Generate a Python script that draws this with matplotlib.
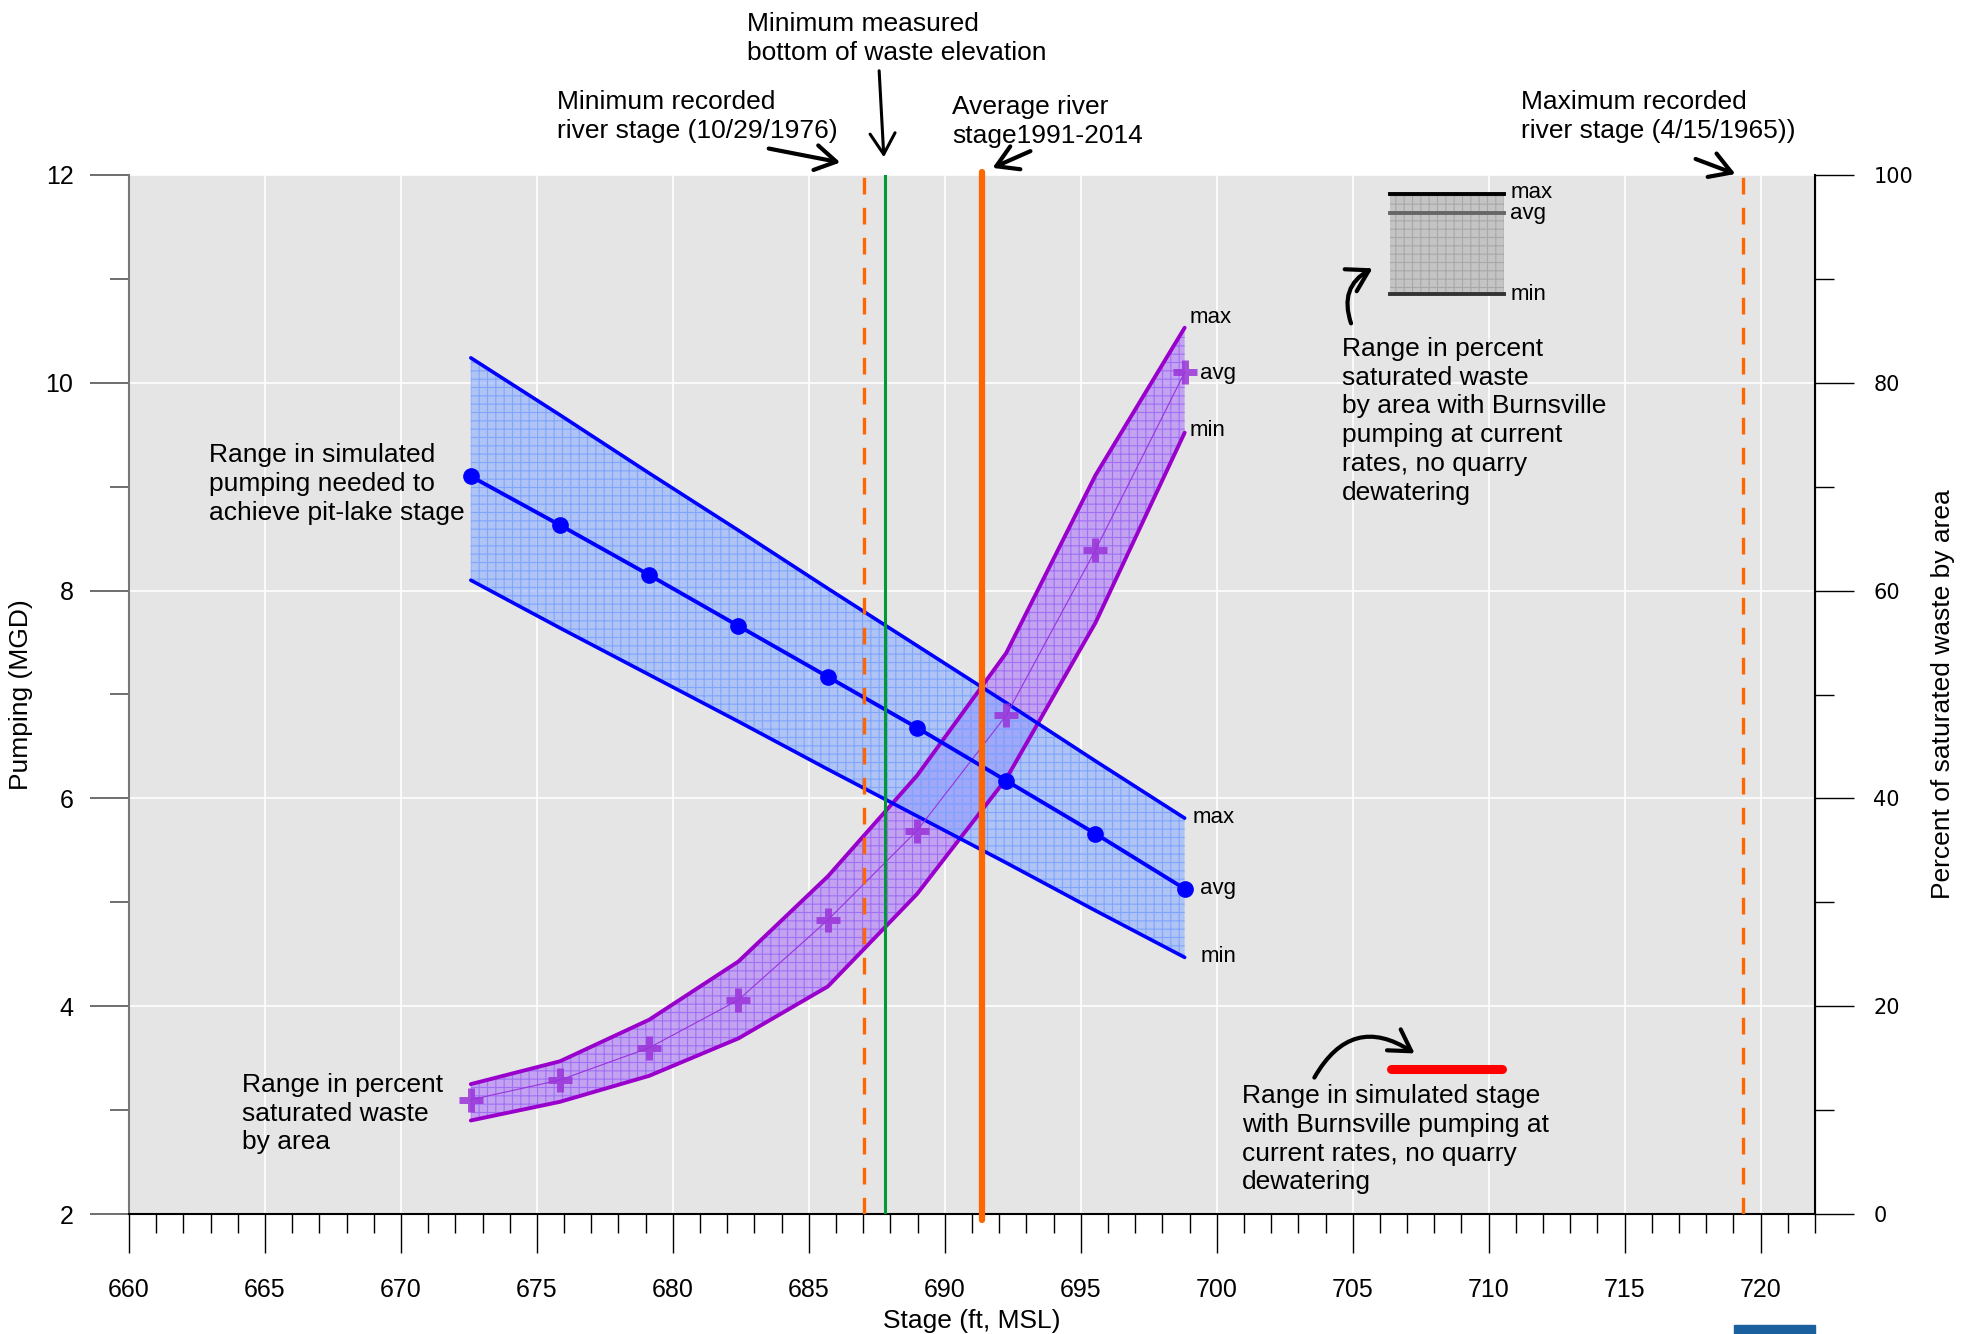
import numpy as np
import matplotlib
matplotlib.use("Agg")
import matplotlib.pyplot as plt
from matplotlib.patches import FancyArrowPatch, Rectangle
from matplotlib.ticker import MultipleLocator

plt.rcParams['font.family'] = ['Liberation Sans', 'DejaVu Sans']
plt.rcParams['hatch.linewidth'] = 0.8

# ---- data ----
stage = [672.57, 675.85, 679.13, 682.41, 685.70, 688.98, 692.26, 695.54, 698.82]  # ft, MSL

pump_avg = [9.10, 8.63, 8.15, 7.66, 7.17, 6.68, 6.17, 5.66, 5.13]   # MGD
pump_max = [10.24, 9.69, 9.13, 8.58, 8.02, 7.47, 6.92, 6.36, 5.81]
pump_min = [8.10, 7.64, 7.19, 6.74, 6.28, 5.83, 5.38, 4.92, 4.47]

sat_avg = [11.0, 12.9, 16.0, 20.6, 28.3, 36.9, 48.0, 63.9, 81.0]   # percent
sat_max = [12.5, 14.7, 18.7, 24.3, 32.5, 42.2, 54.0, 71.1, 85.3]
sat_min = [9.0, 10.8, 13.3, 16.9, 21.9, 30.8, 41.9, 56.9, 75.2]

min_river_stage = 687.03
min_waste_bottom = 687.80
avg_river_stage = 691.35
max_river_stage = 719.35

sim_stage_range = [706.42, 710.49]
sim_stage_pump = 3.40

W, H = 1963, 1334
def fx(px):
    return px / W
def fy(py):
    return 1 - py / H

fig = plt.figure(figsize=(W / 100, H / 100), dpi=100)
ax = fig.add_axes([fx(129), fy(1214), (1815 - 129) / W, (1214 - 175) / H])
ax.set_facecolor('#e5e5e5')
ax.set_xlim(660, 722)
ax.set_ylim(2, 12)
ax2 = ax.twinx()
ax2.set_ylim(0, 100)

# grid
ax.set_axisbelow(True)
ax.xaxis.set_major_locator(MultipleLocator(5))
ax.xaxis.set_minor_locator(MultipleLocator(1))
ax.yaxis.set_major_locator(MultipleLocator(2))
ax.yaxis.set_minor_locator(MultipleLocator(1))
ax2.yaxis.set_major_locator(MultipleLocator(20))
ax2.yaxis.set_minor_locator(MultipleLocator(10))
ax.grid(True, which='major', color='white', lw=1.2)

ax.spines['top'].set_visible(False)
ax2.spines['top'].set_visible(False)
ax.spines['left'].set_color('#777777')
ax.spines['left'].set_linewidth(1.5)
ax.spines['bottom'].set_linewidth(1.5)
ax2.spines['right'].set_linewidth(1.5)
ax2.spines['left'].set_visible(False)
ax2.spines['bottom'].set_visible(False)

ax.tick_params(axis='x', which='major', direction='out', length=28, width=1, pad=18, labelsize=18)
ax.tick_params(axis='x', which='minor', direction='out', length=14, width=1)
ax.tick_params(axis='y', which='major', direction='out', length=28, width=1.2, pad=12,
               labelsize=18, color='#555555')
ax.tick_params(axis='y', which='minor', direction='out', length=14, width=1.2, color='#555555')
ax2.tick_params(axis='y', which='major', direction='out', length=28, width=1, pad=14, labelsize=15)
ax2.tick_params(axis='y', which='minor', direction='out', length=14, width=1)
for lab in ax2.get_yticklabels():
    lab.set_family('DejaVu Sans')

# ---- saturated waste (right axis) ----
ax2.fill_between(stage, sat_min, sat_max, facecolor=(0.72, 0.55, 0.96, 0.75),
                 edgecolor='#a070f5', hatch='++', linewidth=0, zorder=2)
ax2.plot(stage, sat_max, color='#9900cc', lw=2.8, solid_capstyle='round', zorder=3)
ax2.plot(stage, sat_min, color='#9900cc', lw=2.8, solid_capstyle='round', zorder=3)
ax2.plot(stage, sat_avg, color='#9933dd', lw=0.8, marker='+', ms=17, mew=5,
         mec=(0.6, 0.2, 0.85, 0.85), zorder=4)

# ---- pumping (left axis, drawn on the right-axis scale) ----
pump_max_r = [(v - 2) * 10 for v in pump_max]
pump_min_r = [(v - 2) * 10 for v in pump_min]
pump_avg_r = [(v - 2) * 10 for v in pump_avg]
ax2.fill_between(stage, pump_min_r, pump_max_r, facecolor=(0.55, 0.68, 1.0, 0.6),
                 edgecolor='#7fa5ff', hatch='++', linewidth=0, zorder=2.5)
ax2.plot(stage, pump_max_r, color='#0000ff', lw=2.6, solid_capstyle='round', zorder=3)
ax2.plot(stage, pump_min_r, color='#0000ff', lw=2.6, solid_capstyle='round', zorder=3)
ax2.plot(stage, pump_avg_r, color='#0000ff', lw=2.8, marker='o', ms=11, zorder=4)

# ---- reference stages ----
ax2.axvline(min_river_stage, color='#ff6600', lw=2.4, ls=(0, (5, 4)), zorder=5)
ax2.axvline(min_waste_bottom, color='#009933', lw=2.2, zorder=5)
ax2.plot([avg_river_stage, avg_river_stage], [-0.6, 100.3], color='#ff6600', lw=4.5,
         solid_capstyle='round', clip_on=False, zorder=5)
ax2.axvline(max_river_stage, color='#ff6600', lw=2.4, ls=(0, (5, 4)), zorder=5)

ax2.plot(sim_stage_range, [(sim_stage_pump - 2) * 10] * 2, color='#ff0000', lw=6.5,
         solid_capstyle='round', zorder=5)

# max / avg / min labels
lab_kw = dict(fontsize=16, va='center', ha='left', zorder=6)
ax2.text(699.0, 86.3, 'max', **lab_kw)
ax2.text(699.4, 80.9, 'avg', **lab_kw)
ax2.text(699.0, 75.4, 'min', **lab_kw)
ax2.text(699.1, 38.2, 'max', **lab_kw)
ax2.text(699.4, 31.3, 'avg', **lab_kw)
ax2.text(699.4, 24.8, 'min', **lab_kw)

# legend inset
lx0, lx1 = 706.36, 710.55
ly_max, ly_avg, ly_min = 98.17, 96.34, 88.55
ax2.fill_between([lx0, lx1], [ly_min] * 2, [ly_max] * 2, facecolor='#c4c4c4',
                 edgecolor='#a8a8a8', hatch='++', linewidth=0, zorder=2)
ax2.plot([lx0, lx1], [ly_max] * 2, color='black', lw=2.8, zorder=3)
ax2.plot([lx0, lx1], [ly_avg] * 2, color='#666666', lw=2.8, zorder=3)
ax2.plot([lx0, lx1], [ly_min] * 2, color='#333333', lw=2.8, zorder=3)
ax2.text(710.8, 98.3, 'max', **lab_kw)
ax2.text(710.8, 96.3, 'avg', **lab_kw)
ax2.text(710.8, 88.5, 'min', **lab_kw)

# ---- annotations ----
txt_kw = dict(fontsize=19, ha='left', va='top', linespacing=1.25)
fig.text(fx(209), fy(443), 'Range in simulated\npumping needed to\nachieve pit-lake stage', **txt_kw)
fig.text(fx(242), fy(1073), 'Range in percent\nsaturated waste\nby area', **txt_kw)
fig.text(fx(1342), fy(337), 'Range in percent\nsaturated waste\nby area with Burnsville\n'
         'pumping at current\nrates, no quarry\ndewatering', **txt_kw)
fig.text(fx(1242), fy(1084), 'Range in simulated stage\nwith Burnsville pumping at\n'
         'current rates, no quarry\ndewatering', **txt_kw)
fig.text(fx(747), fy(12), 'Minimum measured\nbottom of waste elevation', **txt_kw)
fig.text(fx(557), fy(90), 'Minimum recorded\nriver stage (10/29/1976)', **txt_kw)
fig.text(fx(952), fy(95), 'Average river\nstage1991-2014', **txt_kw)
fig.text(fx(1521), fy(90), 'Maximum recorded\nriver stage (4/15/1965))', **txt_kw)

def arrow(p0, p1, lw=3.0, rad=0.0, hl=15, hw=9):
    a = FancyArrowPatch((fx(p0[0]), fy(p0[1])), (fx(p1[0]), fy(p1[1])),
                        transform=fig.transFigure,
                        arrowstyle=f'->,head_length={hl/10},head_width={hw/10}',
                        connectionstyle=f'arc3,rad={rad}', lw=lw, color='black',
                        mutation_scale=10, zorder=10)
    fig.patches.append(a)

arrow((766, 148), (843, 163))
arrow((879, 68), (884, 160), lw=2.2)
arrow((1033, 150), (990, 169))
arrow((1693, 158), (1738, 175))
arrow((1352, 326), (1375, 267), rad=-0.45)
arrow((1313, 1080), (1417, 1055), rad=-0.55)

fig.text(fx(21), 0.5 * (fy(175) + fy(1214)), 'Pumping (MGD)', rotation=90, fontsize=19,
         ha='center', va='center')
fig.text(fx(1943), 0.5 * (fy(175) + fy(1214)), 'Percent of saturated waste by area',
         rotation=90, fontsize=19, ha='center', va='center')
fig.text(fx(972), fy(1321), 'Stage (ft, MSL)', fontsize=19, ha='center', va='center')

fig.patches.append(Rectangle((fx(1734), 0), (1815 - 1734) / W, 9 / H,
                             transform=fig.transFigure, color='#1a5f9e'))

fig.savefig('out.png', dpi=100)
